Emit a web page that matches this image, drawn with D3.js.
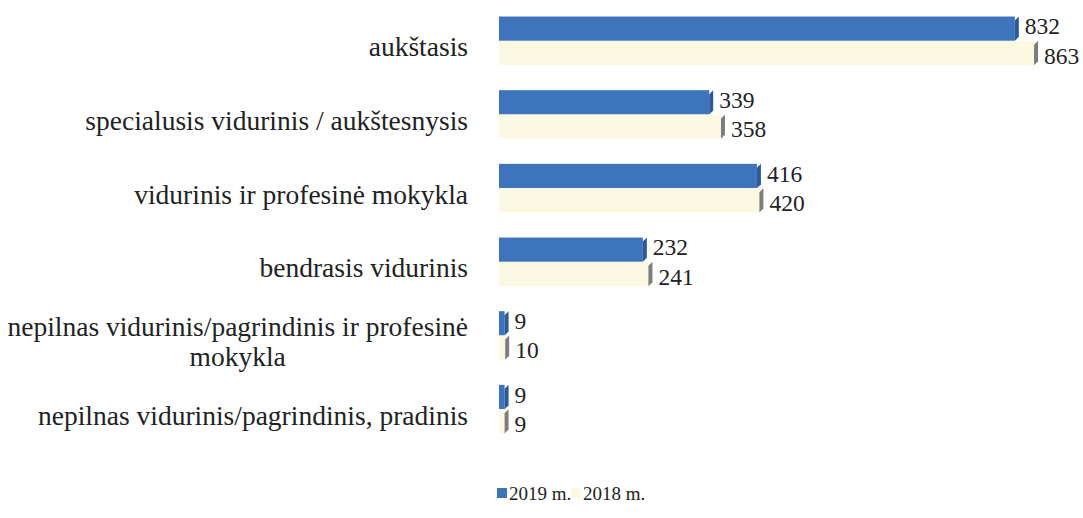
<!DOCTYPE html>
<html>
<head>
<meta charset="utf-8">
<script src="https://cdn.jsdelivr.net/npm/d3@7"></script>
<style>
  body { margin: 0; background: #fff; }
  svg { display: block; }
  text { font-family: "Liberation Serif", "DejaVu Serif", serif; fill: #222; }
</style>
</head>
<body>
<svg width="1083" height="518"></svg>
<script>
const categories = [
  'aukštasis',
  'specialusis vidurinis / aukštesnysis',
  'vidurinis ir profesinė mokykla',
  'bendrasis vidurinis',
  'nepilnas vidurinis/pagrindinis ir profesinė|mokykla',
  'nepilnas vidurinis/pagrindinis, pradinis',
];
const seriesNames = ['2019 m.', '2018 m.'];
const values2019 = [832, 339, 416, 232, 9, 9];
const values2018 = [863, 358, 420, 241, 10, 9];

const serif = '"Liberation Serif", "Times New Roman", serif';
const colors = { '2019 m.': '#3d74bb', '2018 m.': '#fcf9e2' };
const capColors = { '2019 m.': '#2c5a96', '2018 m.': '#7d7d7d' };

const svg = d3.select('svg');
const x0 = 499;
const x = d3.scaleLinear().domain([0, 863]).range([x0, x0 + 863 * 0.62]);
const y = d3.scaleBand().domain(categories).range([4, 446]).paddingInner(0.34).paddingOuter(0.17);
const sub = d3.scaleBand().domain(seriesNames).range([0, y.bandwidth()]);

const rows = categories.map((c, i) => ({
  cat: c,
  bars: [
    { s: '2019 m.', v: values2019[i] },
    { s: '2018 m.', v: values2018[i] },
  ],
}));

const g = svg.append('g');
const group = g.selectAll('g.row')
  .data(rows)
  .enter()
  .append('g')
  .attr('class', 'row')
  .attr('transform', d => `translate(0,${y(d.cat)})`);

const depth = 4;
const bar = group.selectAll('g.bar')
  .data(d => d.bars)
  .enter()
  .append('g')
  .attr('class', 'bar');

bar.append('rect')
  .attr('x', x(0))
  .attr('y', d => sub(d.s))
  .attr('width', d => x(d.v) - x(0))
  .attr('height', sub.bandwidth())
  .attr('fill', d => colors[d.s]);

// thin end face for the 3d look
bar.append('path')
  .attr('d', (d) => {
    const xe = x(d.v);
    const y1 = sub(d.s);
    const y2 = y1 + sub.bandwidth();
    return `M${xe},${y1 + depth}L${xe + depth},${y1}L${xe + depth},${y2 - depth}L${xe},${y2}Z`;
  })
  .attr('fill', d => capColors[d.s]);

// value labels, pushed a little apart like in the original
bar.append('text')
  .attr('x', d => x(d.v) + depth + 6)
  .attr('y', d => sub(d.s) + sub.bandwidth() / 2 + (d.s === '2019 m.' ? -2.5 : 2.5))
  .attr('dy', '0.35em')
  .attr('font-family', serif)
  .style('font-size', '23.5px')
  .text(d => d.v);

// category labels, wrapped lines centred under the first one
const labelRight = 468;
group.each(function (d) {
  const lines = d.cat.split('|');
  const gg = d3.select(this);
  const lh = 30;
  const top = y.bandwidth() / 2 - (lines.length - 1) * lh / 2 + 6;
  const first = gg.append('text')
    .attr('x', labelRight)
    .attr('y', top)
    .attr('dy', '0.35em')
    .attr('text-anchor', 'end')
    .attr('font-family', serif)
    .style('font-size', '27.5px')
    .text(lines[0]);
  const w = first.node().getComputedTextLength();
  lines.slice(1).forEach((ln, k) => {
    gg.append('text')
      .attr('x', labelRight - w / 2)
      .attr('y', top + lh * (k + 1))
      .attr('dy', '0.35em')
      .attr('text-anchor', 'middle')
      .attr('font-family', serif)
      .style('font-size', '27.5px')
      .text(ln);
  });
});

// legend
const legend = svg.append('g').attr('transform', 'translate(497,493)');
const item = legend.selectAll('g')
  .data(seriesNames)
  .enter()
  .append('g')
  .attr('transform', (d, i) => `translate(${i * 74},0)`);
item.append('rect')
  .attr('x', 0).attr('y', -5)
  .attr('width', 10).attr('height', 10)
  .attr('fill', d => colors[d]);
item.append('text')
  .attr('x', 12)
  .attr('dy', '0.35em')
  .attr('font-family', serif)
  .style('font-size', '19px')
  .text(d => d);
</script>
</body>
</html>
